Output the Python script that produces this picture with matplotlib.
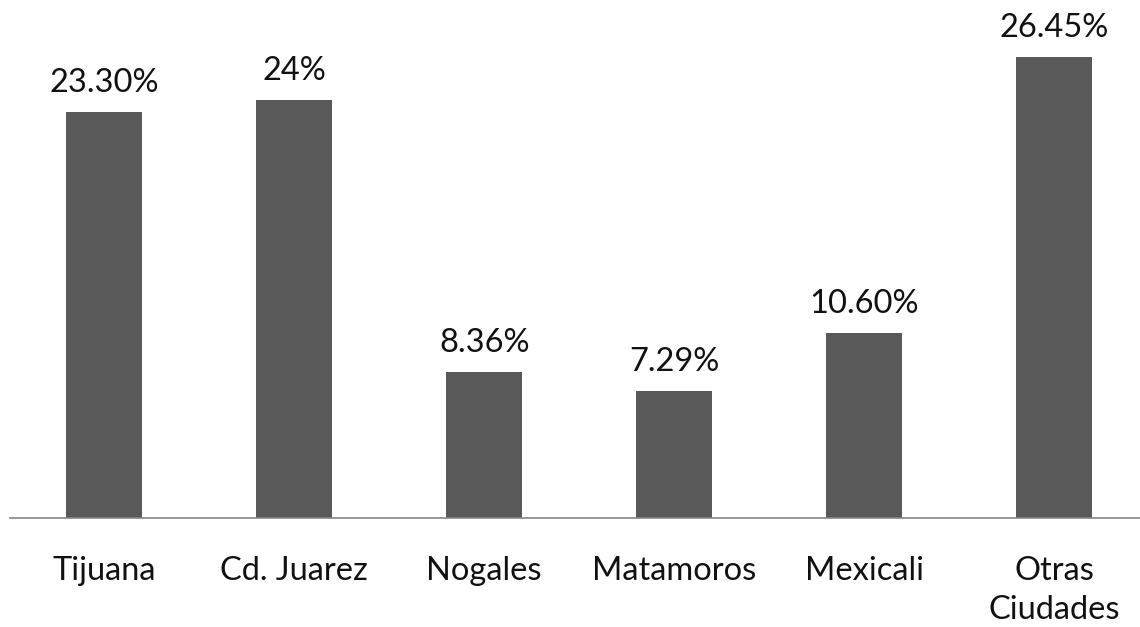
import matplotlib.pyplot as plt

ciudades = ["Tijuana", "Cd. Juarez", "Nogales", "Matamoros", "Mexicali", "Otras\nCiudades"]
porcentajes = [23.30, 24, 8.36, 7.29, 10.60, 26.45]
etiquetas = ["23.30%", "24%", "8.36%", "7.29%", "10.60%", "26.45%"]

plt.rcParams['font.family'] = ['Lato', 'DejaVu Sans']

fig = plt.figure(figsize=(11.4, 6.27), dpi=100)
ax = fig.add_axes([10/1140, 109/627, 1130/1140, 518/627])

x = range(len(ciudades))
bars = ax.bar(x, porcentajes, width=0.4, color='#595959')

for b, t in zip(bars, etiquetas):
    ax.annotate(t, (b.get_x() + b.get_width()/2, b.get_height()),
                textcoords="offset points", xytext=(0, 10),
                ha='center', va='bottom', fontsize=23.5, color='#111111')

ax.set_xlim(-0.495, 5.45)
ax.set_ylim(0, 29.74)
ax.set_xticks(list(x))
ax.set_xticklabels(ciudades, fontsize=23.5, color='#111111', linespacing=1.4)
ax.tick_params(axis='x', length=0, pad=27)
ax.set_yticks([])
for s in ['top', 'right', 'left']:
    ax.spines[s].set_visible(False)
ax.spines['bottom'].set_color('#868686')
ax.spines['bottom'].set_linewidth(1.2)

fig.savefig('out.png', dpi=100)
